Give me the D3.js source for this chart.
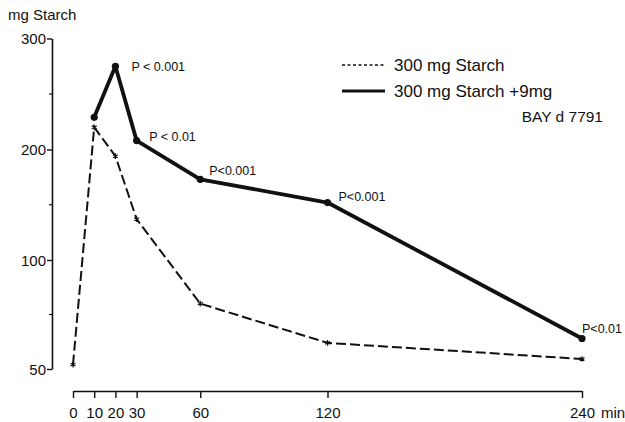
<!DOCTYPE html>
<html><head><meta charset="utf-8">
<script src="https://cdn.jsdelivr.net/npm/d3@7"></script>
<style>
body{margin:0;background:#fff;}
svg text{font-family:"Liberation Sans",Arial,sans-serif;fill:#111;}
</style></head>
<body><svg id="c" width="625" height="422"></svg>
<script>
// ---- data ----
const timesStarch = [0, 10, 20, 30, 60, 120, 240];
const starchOnly = [52, 220, 194, 137, 80, 62, 54.6];
const timesBay = [10, 20, 30, 60, 120, 240];
const starchBay = [229, 275, 208, 173, 152, 64];
const pTimes = [20, 30, 60, 120, 240];
const pLabels = ["P < 0.001", "P < 0.01", "P<0.001", "P<0.001", "P<0.01"];
const xTicks = [0, 10, 20, 30, 60, 120, 240];
const yTicks = [50, 100, 200, 300];
const yMinorTicks = [75, 150, 250];
const legendLabels = ["300 mg Starch", "300 mg Starch +9mg", "BAY d 7791"];

// ---- layout ----
const svg = d3.select("#c");
const x = d3.scaleLinear().domain([0, 240]).range([73, 582]);
const y = d3.scaleLinear().domain([50, 100, 200, 300]).range([369, 260, 149.5, 38.5]);
const labelOffsets = [[16, 0], [12.5, -4], [9, -9], [11, -6], [0, -10]];

// y axis
const gy = svg.append("g").attr("transform", "translate(52,0)")
  .call(d3.axisLeft(y).tickValues(yTicks).tickSize(5).tickSizeOuter(0).tickPadding(1).tickFormat(d3.format("d")));
gy.select(".domain").attr("stroke", "#111").attr("stroke-width", 1.6);
gy.selectAll(".tick line").attr("stroke", "#111").attr("stroke-width", 1.4);
gy.selectAll(".tick text").attr("font-size", 15).attr("fill", "#111").attr("dy", "0.35em");
gy.selectAll(".minor").data(yMinorTicks).enter().append("line")
  .attr("x1", -3).attr("x2", 0).attr("y1", d => y(d)).attr("y2", d => y(d))
  .attr("stroke", "#111").attr("stroke-width", 1.2);

svg.append("text").attr("x", 8).attr("y", 19.5).attr("font-size", 15).text("mg Starch");

// x axis
const gx = svg.append("g").attr("transform", "translate(0,391)")
  .call(d3.axisBottom(x).tickValues(xTicks).tickSize(7).tickSizeOuter(0).tickPadding(9).tickFormat(d3.format("d")));
gx.select(".domain").attr("stroke", "#111").attr("stroke-width", 1.6);
gx.selectAll(".tick line").attr("stroke", "#111").attr("stroke-width", 1.4);
gx.selectAll(".tick text").attr("font-size", 15).attr("fill", "#111");
svg.append("text").attr("x", 601).attr("y", 418).attr("font-size", 15).text("min");

// dashed series
const dashData = timesStarch.map((t, i) => [t, starchOnly[i]]);
svg.append("path").datum(dashData)
  .attr("d", d3.line().x(d => x(d[0])).y(d => y(d[1])))
  .attr("fill", "none").attr("stroke", "#111").attr("stroke-width", 2)
  .attr("stroke-dasharray", "10,4");
svg.selectAll(".star").data(dashData).enter().append("path")
  .attr("transform", d => `translate(${x(d[0])},${y(d[1])})`)
  .attr("d", d3.symbol().type(d3.symbolAsterisk).size(22))
  .attr("fill", "none").attr("stroke", "#111").attr("stroke-width", 1.2);

// solid series
const solidData = timesBay.map((t, i) => [t, starchBay[i]]);
svg.append("path").datum(solidData)
  .attr("d", d3.line().x(d => x(d[0])).y(d => y(d[1])))
  .attr("fill", "none").attr("stroke", "#111").attr("stroke-width", 3.8)
  .attr("stroke-linejoin", "round");
svg.selectAll(".dot").data(solidData).enter().append("circle")
  .attr("cx", d => x(d[0])).attr("cy", d => y(d[1])).attr("r", 3.6).attr("fill", "#111");

// p labels
svg.selectAll(".plab").data(pTimes).enter().append("text")
  .attr("x", (t, i) => x(t) + labelOffsets[i][0])
  .attr("y", (t, i) => y(starchBay[timesBay.indexOf(t)]) + labelOffsets[i][1])
  .attr("dy", "0.35em").attr("font-size", 12.5)
  .text((t, i) => pLabels[i]);

// legend
svg.append("line").attr("x1", 342).attr("x2", 385).attr("y1", 65).attr("y2", 65)
  .attr("stroke", "#111").attr("stroke-width", 1.4).attr("stroke-dasharray", "3,2.5");
svg.append("line").attr("x1", 342).attr("x2", 385).attr("y1", 91).attr("y2", 91)
  .attr("stroke", "#111").attr("stroke-width", 3);
svg.append("text").attr("x", 394).attr("y", 65).attr("dy", "0.35em").attr("font-size", 17).text(legendLabels[0]);
svg.append("text").attr("x", 394).attr("y", 91).attr("dy", "0.35em").attr("font-size", 17).text(legendLabels[1]);
svg.append("text").attr("x", 603).attr("y", 117).attr("dy", "0.35em").attr("font-size", 15.5).attr("text-anchor", "end").text(legendLabels[2]);
</script></body></html>
